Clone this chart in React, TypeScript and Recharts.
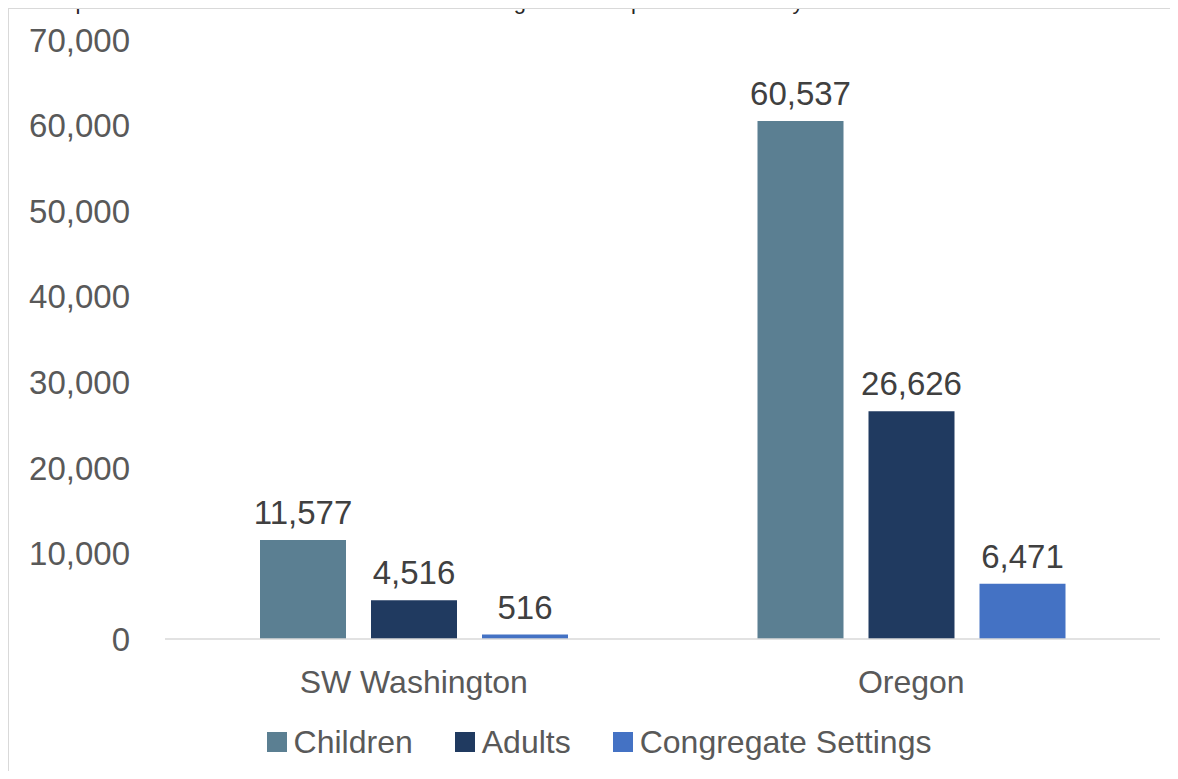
import React from "react";
import { BarChart, Bar, XAxis, YAxis, Legend, LabelList } from "recharts";

const categories = ["SW Washington", "Oregon"];
const children = [11577, 60537];
const adults = [4516, 26626];
const congregate = [516, 6471];
const seriesNames = ["Children", "Adults", "Congregate Settings"];
const yTicks = [0, 10000, 20000, 30000, 40000, 50000, 60000, 70000];

const data = categories.map((name, i) => ({
  name,
  children: children[i],
  adults: adults[i],
  congregate: congregate[i],
}));

const FONT = '"Liberation Sans", Arial, sans-serif';
const fmt = (v: any) => Number(v).toLocaleString("en-US");

if (typeof document !== "undefined") document.body.style.overflow = "hidden";

function LegendContent({ payload }: any) {
  // keep the series order, not the alphabetical one
  const items = [...(payload || [])].sort(
    (a: any, b: any) => seriesNames.indexOf(a.value) - seriesNames.indexOf(b.value)
  );
  return (
    <div
      style={{
        display: "flex",
        justifyContent: "center",
        alignItems: "center",
        height: 40,
        paddingLeft: 29,
        fontFamily: FONT,
        fontSize: 32,
        color: "#595959",
      }}
    >
      {items.map((p: any, i: number) => (
        <div
          key={p.value}
          style={{ display: "flex", alignItems: "center", marginLeft: i ? 42 : 0 }}
        >
          <span style={{ width: 20, height: 20, background: p.color, marginRight: 7 }} />
          <span>{p.value}</span>
        </div>
      ))}
    </div>
  );
}

export default function App() {
  return (
    <div style={{ position: "relative", width: 1200, height: 763 }}>
      {/* caption line above the frame, mostly off the top of the page */}
      <div
        style={{
          position: "absolute",
          top: -18,
          left: -1,
          fontFamily: FONT,
          fontSize: 22,
          lineHeight: "24px",
          whiteSpace: "nowrap",
          color: "#262626",
        }}
      >
        Developmental Disabilities Services and the Washington Developmental Disability Administration.
      </div>
      <div
        style={{
          position: "absolute",
          top: 0,
          left: 0,
          width: 1200,
          height: 762,
          borderLeft: "1px solid #D9D9D9",
          borderTop: "1px solid #D9D9D9",
        }}
      >
        <BarChart
          width={1169}
          height={762}
          data={data}
          margin={{ top: 31, right: 18, bottom: 9, left: 0 }}
          barGap={25}
        >
          <XAxis
            dataKey="name"
            axisLine={{ stroke: "#D9D9D9", strokeWidth: 1.5 }}
            tickLine={false}
            tickSize={0}
            tickMargin={31}
            height={83}
            tick={{ fill: "#595959", fontSize: 32, fontFamily: FONT }}
          />
          <YAxis
            domain={[0, 70000]}
            ticks={yTicks}
            tickFormatter={fmt}
            axisLine={false}
            tickLine={false}
            tickSize={0}
            tickMargin={35}
            width={156}
            tick={{ fill: "#595959", fontSize: 33, fontFamily: FONT }}
          />
          <Legend verticalAlign="bottom" content={<LegendContent />} />
          <Bar dataKey="children" name={seriesNames[0]} fill="#5B7F92" barSize={86} isAnimationActive={false}>
            <LabelList dataKey="children" position="top" offset={16} formatter={fmt} style={{ fill: "#404040", fontSize: 33, fontFamily: FONT }} />
          </Bar>
          <Bar dataKey="adults" name={seriesNames[1]} fill="#203A60" barSize={86} isAnimationActive={false}>
            <LabelList dataKey="adults" position="top" offset={16} formatter={fmt} style={{ fill: "#404040", fontSize: 33, fontFamily: FONT }} />
          </Bar>
          <Bar dataKey="congregate" name={seriesNames[2]} fill="#4472C4" barSize={86} isAnimationActive={false}>
            <LabelList dataKey="congregate" position="top" offset={16} formatter={fmt} style={{ fill: "#404040", fontSize: 33, fontFamily: FONT }} />
          </Bar>
        </BarChart>
      </div>
    </div>
  );
}
